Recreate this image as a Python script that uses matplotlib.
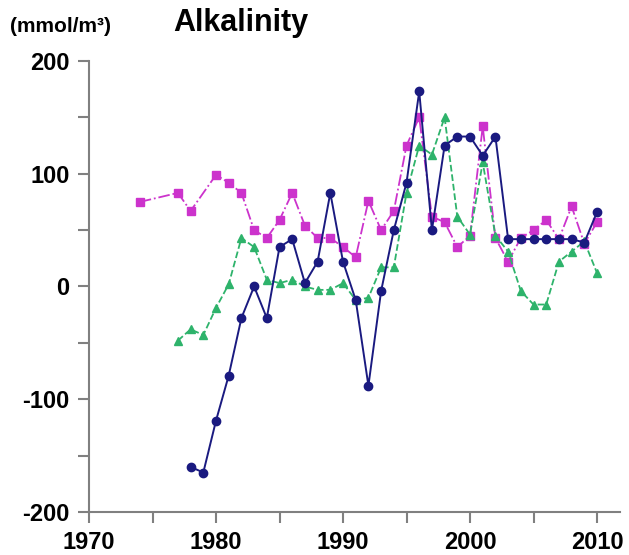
import numpy as np
import matplotlib
matplotlib.use('Agg')
import matplotlib.pyplot as plt
from matplotlib.ticker import MultipleLocator

plt.rcParams['font.family'] = ['Liberation Sans', 'DejaVu Sans']
plt.rcParams['axes.unicode_minus'] = False

# Blue (solid, circles)
blue_years = list(range(1978, 2011))
blue_vals = [-160, -165, -119, -79, -28, 0, -28, 35, 42, 3, 22, 83, 22, -12, -88,
             -4, 50, 92, 173, 50, 125, 133, 133, 116, 133, 42, 42, 42, 42, 42, 42, 39, 66]

# Magenta (dash-dot, squares)
mag_years = [1974, 1977, 1978] + list(range(1980, 2011))
mag_vals = [75, 83, 67, 99, 92, 83, 50, 43, 59, 83, 54, 43, 43, 35, 26, 76,
            50, 67, 125, 150, 62, 57, 35, 45, 142, 43, 22, 43, 50, 59, 42, 71, 38, 57]

# Green (dashed, triangles)
green_years = list(range(1977, 2011))
green_vals = [-48, -38, -43, -19, 2, 43, 35, 6, 3, 6, 0, -3, -3, 3, -12, -10, 17,
              17, 83, 125, 117, 150, 62, 46, 110, 45, 31, -4, -16, -16, 22, 31, 40, 12]

c_blue = '#1a1a80'
c_mag = '#cc33cc'
c_green = '#2eb36b'
c_axis = '#808080'

fig = plt.figure(figsize=(6.29, 5.55), dpi=100)
ax = fig.add_axes([0.1415, 0.0775, 0.844, 0.8126])

ax.plot(mag_years, mag_vals, linestyle='-.', color=c_mag, linewidth=1.3,
        marker='s', markersize=6, markeredgecolor=c_mag, zorder=2)
ax.plot(green_years, green_vals, linestyle='--', color=c_green, linewidth=1.3,
        marker='^', markersize=6, markeredgecolor=c_green, zorder=3)
ax.plot(blue_years, blue_vals, linestyle='-', color=c_blue, linewidth=1.4,
        marker='o', markersize=6, markeredgecolor=c_blue, zorder=4)

ax.set_xlim(1970, 2011.8)
ax.set_ylim(-200, 200)
ax.xaxis.set_major_locator(MultipleLocator(10))
ax.xaxis.set_minor_locator(MultipleLocator(5))
ax.yaxis.set_major_locator(MultipleLocator(100))
ax.yaxis.set_minor_locator(MultipleLocator(50))

for s in ['top', 'right']:
    ax.spines[s].set_visible(False)
for s in ['left', 'bottom']:
    ax.spines[s].set_color(c_axis)
    ax.spines[s].set_linewidth(1.5)

ax.tick_params(which='major', direction='out', length=8, width=1.5, color=c_axis,
               labelsize=17, pad=6)
ax.tick_params(which='minor', direction='out', length=8, width=1.5, color=c_axis)
for lab in ax.get_xticklabels() + ax.get_yticklabels():
    lab.set_fontweight('bold')

fig.text(10 / 629, 1 - 26 / 555, '(mmol/m³)', fontsize=15, fontweight='bold',
         ha='left', va='center')
fig.text(173 / 629, 1 - 23 / 555, 'Alkalinity', fontsize=22, fontweight='bold',
         ha='left', va='center')

fig.savefig('out.png', dpi=100, facecolor='white')
